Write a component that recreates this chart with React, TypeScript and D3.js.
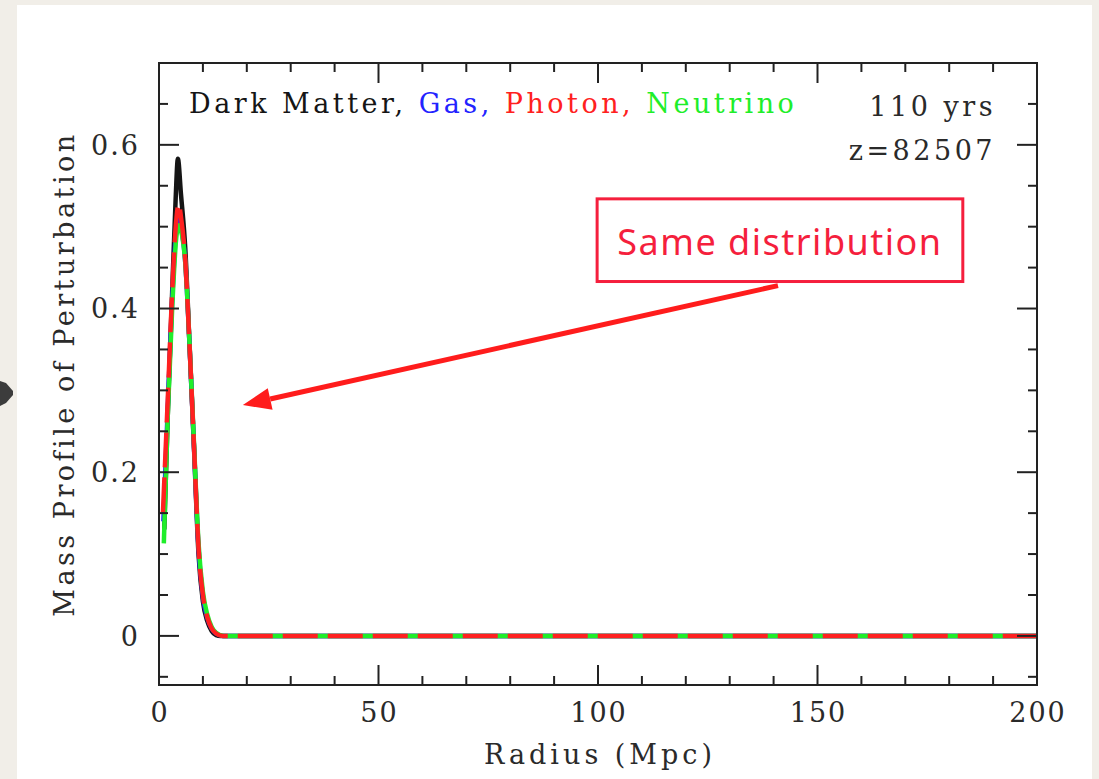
import React from 'react';
import * as d3 from 'd3';

// Axis ranges and labelled ticks
const radiusDomain: [number, number] = [0, 200];
const profileDomain: [number, number] = [-0.06, 0.7];
const xMajorTicks = [0, 50, 100, 150, 200];
const yMajorTicks = [0, 0.2, 0.4, 0.6];
const xTickLabels = ['0', '50', '100', '150', '200'];
const yTickLabels = ['0', '0.2', '0.4', '0.6'];

// Mass profile of the perturbation (radius in Mpc, profile value)
const darkMatter: [number, number][] = [
  [1.2, 0.13], [2, 0.27], [3, 0.42], [3.8, 0.535], [4.3, 0.583], [5, 0.54],
  [6, 0.472], [7, 0.35], [8, 0.226], [9, 0.1], [10, 0.042], [11, 0.018],
  [12, 0.006], [13, 0.001], [14, 0], [200, 0],
];
const gas: [number, number][] = [
  [1.0, 0.14], [2, 0.28], [3, 0.41], [4, 0.5], [4.5, 0.51], [5, 0.5],
  [6, 0.455], [7, 0.35], [8, 0.228], [9, 0.108], [10, 0.048], [11, 0.022],
  [12, 0.009], [13, 0.003], [14.5, 0], [200, 0],
];
const photon: [number, number][] = [
  [0.9, 0.151], [2, 0.29], [3, 0.42], [4, 0.512], [4.5, 0.528], [5, 0.512],
  [6, 0.458], [7, 0.35], [8, 0.228], [9, 0.108], [10, 0.05], [11, 0.023],
  [12, 0.009], [13, 0.003], [14.5, 0], [200, 0],
];
const neutrino: [number, number][] = [
  [1.1, 0.113], [2, 0.27], [3, 0.4], [4, 0.49], [4.6, 0.502], [5, 0.496],
  [6, 0.455], [7, 0.352], [8, 0.232], [9, 0.114], [10, 0.054], [11, 0.026],
  [12, 0.011], [13, 0.004], [14.8, 0], [200, 0],
];

const legendLabels = ['Dark Matter, ', 'Gas, ', 'Photon, ', 'Neutrino'];
const epochLabels = ['110 yrs', 'z=82507'];
const noteText = 'Same distribution';
// Note box corners and arrow ends, in data units
const noteBox = { r0: 99.8, r1: 183.1, v0: 0.534, v1: 0.433 };
const noteArrow = { fromR: 141, fromV: 0.428, toR: 19.1, toV: 0.282 };

const colors = {
  dark: '#151515',
  gas: '#2323ff',
  photon: '#ff2020',
  neutrino: '#1fee2a',
  note: '#f51f3d',
  arrow: '#ff1c1c',
};

const W = 1099;
const H = 779;
const frame = { left: 159, right: 1037, top: 63, bottom: 685 };
const serif = '"DejaVu Serif", "Liberation Serif", serif';

export default function App() {
  const x = d3.scaleLinear().domain(radiusDomain).range([frame.left, frame.right]);
  const y = d3.scaleLinear().domain(profileDomain).range([frame.bottom, frame.top]);

  const line = d3
    .line<[number, number]>()
    .x((d) => x(d[0]))
    .y((d) => y(d[1]))
    .curve(d3.curveMonotoneX);

  const xMinor = d3.range(0, 201, 10).filter((v) => !xMajorTicks.includes(v));
  const yMinor = d3
    .range(-1, 14)
    .map((i) => Math.round(i * 5) / 100)
    .filter((v) => !yMajorTicks.some((m) => Math.abs(m - v) < 1e-9));

  const majorLen = 20;
  const minorLen = 9;
  const axisColor = '#222';

  const legendColors = [colors.dark, colors.gas, colors.photon, colors.neutrino];

  // arrow geometry
  const ax0 = x(noteArrow.fromR);
  const ay0 = y(noteArrow.fromV);
  const ax1 = x(noteArrow.toR);
  const ay1 = y(noteArrow.toV);
  const ang = Math.atan2(ay1 - ay0, ax1 - ax0);
  const headLen = 28;
  const headHalf = 11;
  const bx = ax1 - headLen * Math.cos(ang);
  const by = ay1 - headLen * Math.sin(ang);
  const px = -Math.sin(ang);
  const py = Math.cos(ang);
  const head = `M${ax1},${ay1} L${bx + px * headHalf},${by + py * headHalf} L${bx + px * 2},${by + py * 2} L${bx - px * headHalf},${by - py * headHalf} Z`;

  return (
    <svg
      width={W}
      height={H}
      style={{ position: 'absolute', left: 0, top: 0 }}
      xmlns="http://www.w3.org/2000/svg"
    >
      <rect x={0} y={0} width={W} height={H} fill="#f1eee8" />
      <rect x={17} y={5} width={1075} height={H} fill="#ffffff" />
      {/* slide bullet at the left edge */}
      <path d="M0,381 L6,383 L13,391 L13,395 L6,403 L0,406 Z" fill="#3c3c3c" />

      {/* curves */}
      <g fill="none" strokeLinejoin="round">
        <path d={line(darkMatter) || ''} stroke={colors.dark} strokeWidth={4.5} />
        <path d={line(gas) || ''} stroke={colors.gas} strokeWidth={4.5} />
        <path d={line(neutrino) || ''} stroke={colors.neutrino} strokeWidth={4.5} />
        <path
          d={line(photon) || ''}
          stroke={colors.photon}
          strokeWidth={4.5}
          strokeDasharray="35 10"
        />
      </g>

      {/* frame */}
      <rect
        x={frame.left}
        y={frame.top}
        width={frame.right - frame.left}
        height={frame.bottom - frame.top}
        fill="none"
        stroke={axisColor}
        strokeWidth={2}
      />
      <g stroke={axisColor} strokeWidth={2}>
        {xMajorTicks.map((v) => (
          <g key={`xM${v}`}>
            <line x1={x(v)} x2={x(v)} y1={frame.bottom} y2={frame.bottom - majorLen} />
            <line x1={x(v)} x2={x(v)} y1={frame.top} y2={frame.top + majorLen} />
          </g>
        ))}
        {xMinor.map((v) => (
          <g key={`xm${v}`}>
            <line x1={x(v)} x2={x(v)} y1={frame.bottom} y2={frame.bottom - minorLen} />
            <line x1={x(v)} x2={x(v)} y1={frame.top} y2={frame.top + minorLen} />
          </g>
        ))}
        {yMajorTicks.map((v) => (
          <g key={`yM${v}`}>
            <line x1={frame.left} x2={frame.left + majorLen} y1={y(v)} y2={y(v)} />
            <line x1={frame.right} x2={frame.right - majorLen} y1={y(v)} y2={y(v)} />
          </g>
        ))}
        {yMinor.map((v) => (
          <g key={`ym${v}`}>
            <line x1={frame.left} x2={frame.left + minorLen} y1={y(v)} y2={y(v)} />
            <line x1={frame.right} x2={frame.right - minorLen} y1={y(v)} y2={y(v)} />
          </g>
        ))}
      </g>

      {/* tick labels */}
      <g fontFamily={serif} fontSize={27} fill="#2a2a2a">
        {xMajorTicks.map((v, i) => (
          <text key={`xl${v}`} x={x(v) + 1} y={722} textAnchor="middle" letterSpacing={2}>
            {xTickLabels[i]}
          </text>
        ))}
        {yMajorTicks.map((v, i) => (
          <text key={`yl${v}`} x={140} y={y(v)} dy="0.36em" textAnchor="end" letterSpacing={2}>
            {yTickLabels[i]}
          </text>
        ))}
      </g>

      {/* axis titles */}
      <text
        x={(frame.left + frame.right) / 2 + 2}
        y={764}
        textAnchor="middle"
        fontFamily={serif}
        fontSize={27}
        letterSpacing={4}
        fill="#2a2a2a"
      >
        Radius (Mpc)
      </text>
      <text
        transform={`translate(74, ${374}) rotate(-90)`}
        textAnchor="middle"
        fontFamily={serif}
        fontSize={27}
        letterSpacing={3.5}
        fill="#2a2a2a"
      >
        Mass Profile of Perturbation
      </text>

      {/* legend */}
      <text
        x={189}
        y={113}
        fontFamily={serif}
        fontSize={27}
        letterSpacing={3.5}
        xmlSpace="preserve"
      >
        {legendLabels.map((t, i) => (
          <tspan key={t} fill={legendColors[i]}>
            {t}
          </tspan>
        ))}
      </text>
      <g fontFamily={serif} fontSize={27} fill="#2a2a2a" textAnchor="end" letterSpacing={3.5}>
        <text x={996} y={116}>{epochLabels[0]}</text>
        <text x={996} y={160}>{epochLabels[1]}</text>
      </g>

      {/* annotation */}
      <rect
        x={x(noteBox.r0)}
        y={y(noteBox.v0)}
        width={x(noteBox.r1) - x(noteBox.r0)}
        height={y(noteBox.v1) - y(noteBox.v0)}
        fill="#ffffff"
        stroke={colors.note}
        strokeWidth={3}
      />
      <text
        x={(x(noteBox.r0) + x(noteBox.r1)) / 2}
        y={(y(noteBox.v0) + y(noteBox.v1)) / 2 + 2}
        dy="0.36em"
        textAnchor="middle"
        fontFamily='"Comic Sans MS", "Noto Sans", sans-serif'
        fontSize={36}
        letterSpacing={1.5}
        fill={colors.note}
      >
        {noteText}
      </text>
      <line x1={ax0} y1={ay0} x2={bx} y2={by} stroke={colors.arrow} strokeWidth={5} />
      <path d={head} fill={colors.arrow} />
    </svg>
  );
}
